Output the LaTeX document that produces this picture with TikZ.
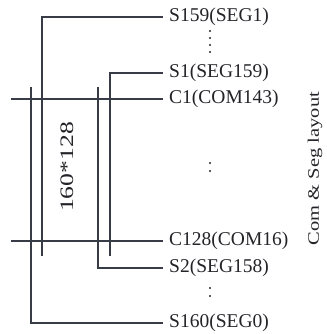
\documentclass[tikz,border=0pt]{standalone}
\usepackage{fontspec}
\usepackage{graphicx}
\setmainfont{Liberation Serif}
\definecolor{wire}{RGB}{55,60,70}
\definecolor{ink}{RGB}{35,35,40}
\begin{document}
\begin{tikzpicture}[x=1pt,y=-1pt,
  wirestyle/.style={draw=wire,line width=1.4pt},
  pinlabel/.style={anchor=west,inner xsep=6pt,inner ysep=0pt,text=ink,font=\fontsize{19.5}{20}\selectfont},
  dotmark/.style={circle,fill=ink,inner sep=0pt,minimum size=2.4pt},
  sidetext/.style={rotate=90,text=ink,inner sep=0pt}]
\useasboundingbox (0,0) rectangle (326,334);
% labels
\node[pinlabel] (s159) at (163,17) {S159(SEG1)};
\node[pinlabel] (s1)   at (163,73) {S1(SEG159)};
\node[pinlabel] (c1)   at (163,99) {C1(COM143)};
\node[pinlabel] (c128) at (163,241) {C128(COM16)};
\node[pinlabel] (s2)   at (163,268) {S2(SEG158)};
\node[pinlabel] (s160) at (163,323) {S160(SEG0)};
% coordinates
\coordinate (c1l) at (11,99);
\coordinate (c128l) at (11,241);
\coordinate (s159v) at (42,256);
\coordinate (s1v) at (110,256);
\coordinate (s160v) at (31,87);
\coordinate (s2v) at (98,87);
% wires
\draw[wirestyle] (s159v) |- (s159.west);
\draw[wirestyle] (s1v) |- (s1.west);
\draw[wirestyle] (s160v) |- (s160.west);
\draw[wirestyle] (s2v) |- (s2.west);
\draw[wirestyle] (c1l) -- (c1.west);
\draw[wirestyle] (c128l) -- (c128.west);
% dots
\node[dotmark] (d1) at (210,31) {};
\node[dotmark] (d2) at (210,38) {};
\node[dotmark] (d3) at (210,45) {};
\node[dotmark] (d4) at (210,52) {};
\node[dotmark] (d5) at (210,163) {};
\node[dotmark] (d6) at (210,171) {};
\node[dotmark] (d7) at (210,288) {};
\node[dotmark] (d8) at (210,296) {};
% rotated texts
\node[sidetext,font=\fontsize{19}{20}\selectfont] (size) at (67,167) {\scalebox{1.35}[1]{160*128}};
\node[sidetext,font=\fontsize{16}{18}\selectfont] (title) at (315,168.5) {\scalebox{1.28}[1]{Com \& Seg layout}};
\end{tikzpicture}
\end{document}
